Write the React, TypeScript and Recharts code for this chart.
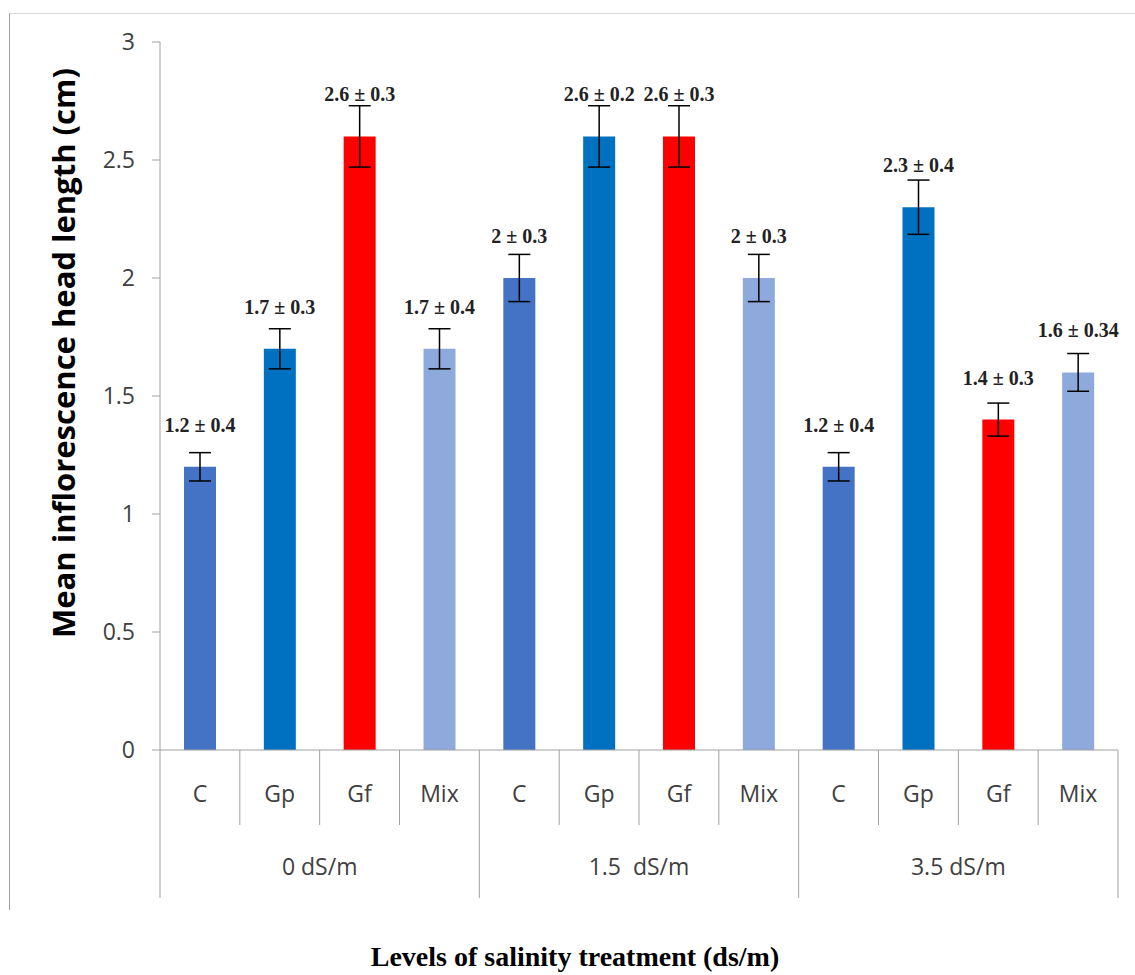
import React from 'react';
import { BarChart, Bar, XAxis, YAxis, Cell, ErrorBar, LabelList } from 'recharts';

const categories = ['C', 'Gp', 'Gf', 'Mix', 'C', 'Gp', 'Gf', 'Mix', 'C', 'Gp', 'Gf', 'Mix'];
const groups = ['0 dS/m', '1.5  dS/m', '3.5 dS/m'];
const means = [1.2, 1.7, 2.6, 1.7, 2, 2.6, 2.6, 2, 1.2, 2.3, 1.4, 1.6];
const errors = [0.06, 0.085, 0.13, 0.085, 0.1, 0.13, 0.13, 0.1, 0.06, 0.115, 0.07, 0.08];
const labels = [
  '1.2 ± 0.4', '1.7 ± 0.3', '2.6 ± 0.3', '1.7 ± 0.4',
  '2 ± 0.3', '2.6 ± 0.2', '2.6 ± 0.3', '2 ± 0.3',
  '1.2 ± 0.4', '2.3 ± 0.4', '1.4 ± 0.3', '1.6 ± 0.34',
];
const yTicks = [0, 0.5, 1, 1.5, 2, 2.5, 3];
const colors = ['#4472C4', '#0070C0', '#FF0000', '#8EA9DB'];

const data = categories.map((name, i) => ({
  name,
  mean: means[i],
  err: errors[i],
  label: labels[i],
}));

const W = 1135;
const H = 975;
const PLOT_LEFT = 160;
const PLOT_RIGHT = 1118;
const PLOT_TOP = 42;
const AXIS_Y = 750;
const SLOT = (PLOT_RIGHT - PLOT_LEFT) / categories.length;
const GRID = '#A0A0A0';
const SANS = '"Open Sans", "Noto Sans", sans-serif';
const SERIF = '"Liberation Serif", "Times New Roman", serif';

const CategoryTick = (props: any) => {
  const { x, payload, index } = props;
  const i = typeof index === 'number' ? index : payload.index;
  const right = x + SLOT / 2;
  const left = x - SLOT / 2;
  const groupEnd = i % 4 === 3;
  return (
    <g>
      {i === 0 && <line x1={left} x2={left} y1={AXIS_Y} y2={898} stroke={GRID} />}
      <line x1={right} x2={right} y1={AXIS_Y} y2={groupEnd ? 898 : 825} stroke={GRID} />
      <text x={x} y={802} textAnchor="middle" fontFamily={SANS} fontSize={23} fill="#404040">
        {payload.value}
      </text>
      {i % 4 === 1 && (
        <text
          x={right}
          y={875}
          textAnchor="middle"
          fontFamily={SANS}
          fontSize={23}
          fill="#404040"
          style={{ whiteSpace: 'pre' }}
        >
          {groups[Math.floor(i / 4)]}
        </text>
      )}
    </g>
  );
};

const renderValueLabel = (props: any) => {
  const { x, y, width, value } = props;
  return (
    <text
      x={Number(x) + Number(width) / 2}
      y={Number(y) - 35}
      textAnchor="middle"
      fontFamily={SERIF}
      fontWeight="bold"
      fontSize={20}
      fill="#222"
    >
      {value}
    </text>
  );
};

export default function App() {
  return (
    <div style={{ position: 'relative', width: W, height: H, background: '#fff' }}>
      <style>{'body{margin:0}'}</style>
      <div
        style={{
          position: 'absolute',
          left: 9,
          top: 13,
          width: W - 9,
          height: 897,
          borderTop: '1px solid #D9D9D9',
          borderLeft: '1px solid #A0A0A0',
          boxSizing: 'border-box',
        }}
      />
      <div style={{ position: 'absolute', left: 0, top: 0 }}>
        <BarChart
          width={W}
          height={H}
          data={data}
          margin={{ top: PLOT_TOP, right: W - PLOT_RIGHT, bottom: 0, left: 0 }}
          barSize={32}
        >
          <XAxis
            dataKey="name"
            interval={0}
            tickLine={false}
            axisLine={{ stroke: GRID }}
            height={H - AXIS_Y}
            tick={CategoryTick}
            label={{
              content: () => (
                <text
                  x={575}
                  y={966}
                  textAnchor="middle"
                  fontFamily={SERIF}
                  fontWeight="bold"
                  fontSize={28}
                  fill="#000"
                >
                  Levels of salinity treatment (ds/m)
                </text>
              ),
            }}
          />
          <YAxis
            type="number"
            domain={[0, 3]}
            ticks={yTicks}
            width={PLOT_LEFT}
            axisLine={{ stroke: GRID }}
            tickLine={{ stroke: GRID }}
            tickSize={8}
            tickMargin={17}
            tick={{ fontFamily: SANS, fontSize: 23, fill: '#404040' }}
            label={{
              content: () => (
                <text
                  x={63}
                  y={353}
                  transform="rotate(-90, 63, 353)"
                  textAnchor="middle"
                  dominantBaseline="central"
                  fontFamily={SANS}
                  fontWeight="bold"
                  fontSize={31}
                  fill="#000"
                >
                  Mean inflorescence head length (cm)
                </text>
              ),
            }}
          />
          <Bar dataKey="mean" isAnimationActive={false}>
            {data.map((d, i) => (
              <Cell key={i} fill={colors[i % 4]} />
            ))}
            <ErrorBar dataKey="err" width={11} stroke="#000" strokeWidth={1.5} direction="y" />
            <LabelList dataKey="label" content={renderValueLabel} />
          </Bar>
        </BarChart>
      </div>
    </div>
  );
}
